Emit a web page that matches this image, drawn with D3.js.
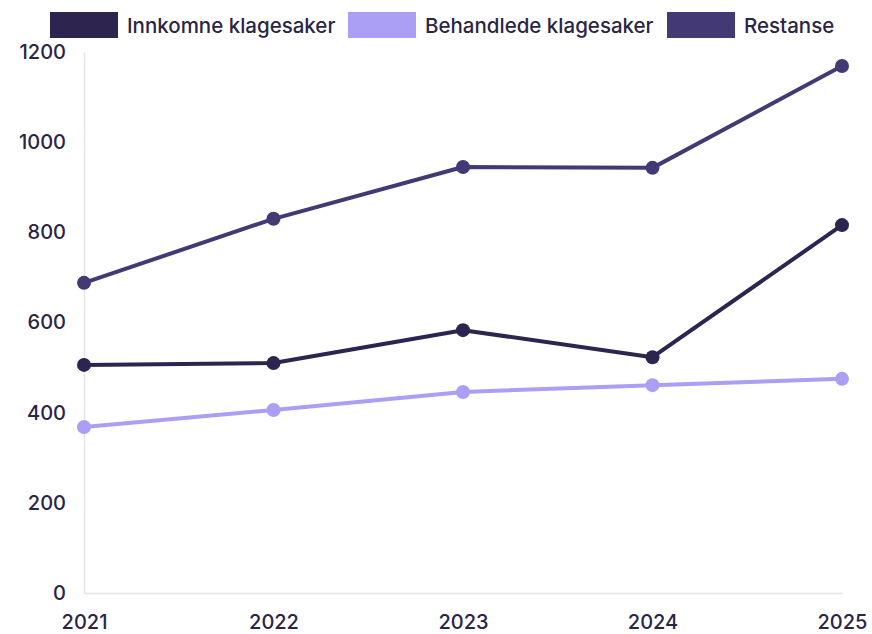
<!DOCTYPE html>
<html>
<head>
<meta charset="utf-8">
<script src="https://cdn.jsdelivr.net/npm/d3@7"></script>
<style>
  body { margin: 0; background: #fff; }
  text { font-family: Inter, "Noto Sans", sans-serif; fill: #2a2545; }
</style>
</head>
<body>
<div id="chart"></div>
<script>
// data
var years = ["2021", "2022", "2023", "2024", "2025"];
var innkomne = [506, 510, 583, 523, 816];
var behandlede = [368, 406, 446, 461, 475];
var restanse = [688, 830, 945, 943, 1169];
var yTicks = [0, 200, 400, 600, 800, 1000, 1200];

var seriesNames = ["Innkomne klagesaker", "Behandlede klagesaker", "Restanse"];
var seriesColors = ["#2d2550", "#ab9ff5", "#433a75"];

var width = 872, height = 634;
var margin = { top: 52, right: 30, bottom: 41, left: 84 };

var svg = d3.select("#chart").append("svg")
  .attr("width", width)
  .attr("height", height);

var x = d3.scalePoint().domain(years).range([margin.left, 842]);
var y = d3.scaleLinear().domain([0, 1200]).range([height - margin.bottom, margin.top]);

// axes
var yAxis = svg.append("g")
  .attr("transform", "translate(" + margin.left + ",0)")
  .call(d3.axisLeft(y).tickValues(yTicks).tickFormat(d3.format("d")).tickSize(0).tickPadding(18));
yAxis.select(".domain").attr("stroke", "#e4e4e8").attr("stroke-width", 1.5);
yAxis.selectAll("text").style("font-size", "20px").style("font-weight", 500).style("fill", "#2a2545");

var xAxis = svg.append("g")
  .attr("transform", "translate(0," + y(0) + ")")
  .call(d3.axisBottom(x).tickSize(0).tickPadding(22));
xAxis.select(".domain").attr("stroke", "#e4e4e8").attr("stroke-width", 1.5);
xAxis.selectAll("text").style("font-size", "20px").style("font-weight", 500).style("fill", "#2a2545");

var series = [innkomne, behandlede, restanse];

var line = d3.line()
  .x(function (d, i) { return x(years[i]); })
  .y(function (d) { return y(d); });

// draw behandlede first, then the dark ones on top
[1, 0, 2].forEach(function (k) {
  svg.append("path")
    .datum(series[k])
    .attr("fill", "none")
    .attr("stroke", seriesColors[k])
    .attr("stroke-width", 4)
    .attr("stroke-linejoin", "round")
    .attr("d", line);

  svg.selectAll(".pt" + k)
    .data(series[k])
    .enter()
    .append("circle")
    .attr("class", "pt" + k)
    .attr("cx", function (d, i) { return x(years[i]); })
    .attr("cy", function (d) { return y(d); })
    .attr("r", 7)
    .attr("fill", seriesColors[k]);
});

// legend
var legendX = [50, 348, 667];
var legend = svg.append("g");
seriesNames.forEach(function (name, i) {
  legend.append("rect")
    .attr("x", legendX[i])
    .attr("y", 12)
    .attr("width", 68)
    .attr("height", 26)
    .attr("fill", seriesColors[i]);
  legend.append("text")
    .attr("x", legendX[i] + 77)
    .attr("y", 26)
    .attr("dy", "0.35em")
    .style("font-size", "20.5px")
    .style("font-weight", 500)
    .text(name);
});
</script>
</body>
</html>
